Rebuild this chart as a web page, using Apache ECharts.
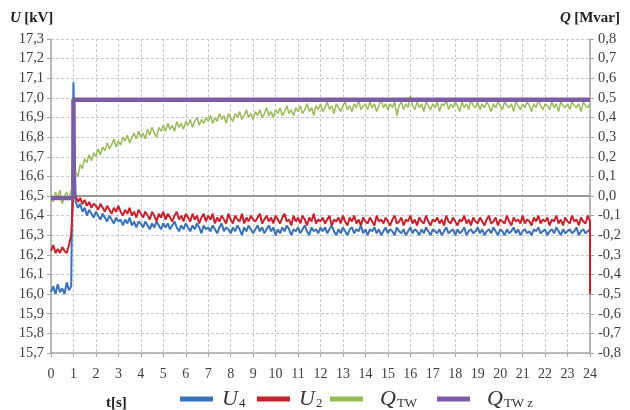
<!DOCTYPE html>
<html>
<head>
<meta charset="utf-8">
<script src="https://cdn.jsdelivr.net/npm/echarts@6/dist/echarts.min.js"></script>
<style>
  html, body { margin: 0; padding: 0; background: #fff; }
  #chart { width: 630px; height: 410px; }
</style>
</head>
<body>
<div id="chart"></div>
<script>
// sample step of the recorded traces [s]
var dt = 0.1;

// U4 [kV], t = 0.0 ... 24.0
var u4 = [
  16.01, 16.04, 16.00, 16.05, 16.01, 16.03, 16.00, 16.06, 16.02, 16.04,
  17.08,
  16.47, 16.44, 16.46, 16.42, 16.44, 16.40, 16.43, 16.41, 16.39, 16.42,
  16.40, 16.38, 16.41, 16.39, 16.37, 16.40, 16.38, 16.36, 16.39, 16.37,
  16.38, 16.35, 16.38, 16.36, 16.39, 16.35, 16.37, 16.34, 16.37, 16.36,
  16.34, 16.37, 16.35, 16.33, 16.36, 16.34, 16.37, 16.35, 16.33, 16.36,
  16.34, 16.36, 16.33, 16.35, 16.37, 16.34, 16.32, 16.35, 16.33, 16.36,
  16.34, 16.32, 16.35, 16.33, 16.36, 16.34, 16.31, 16.35, 16.33, 16.34,
  16.32, 16.35, 16.33, 16.31, 16.34, 16.36, 16.32, 16.34, 16.33, 16.31,
  16.34, 16.32, 16.35, 16.33, 16.30, 16.34, 16.32, 16.35, 16.33, 16.31,
  16.33, 16.35, 16.32, 16.34, 16.31, 16.33, 16.35, 16.32, 16.34, 16.30,
  16.33, 16.31, 16.34, 16.32, 16.35, 16.33, 16.30, 16.33, 16.32, 16.34,
  16.31, 16.33, 16.35, 16.32, 16.30, 16.34, 16.32, 16.33, 16.31, 16.34,
  16.32, 16.34, 16.31, 16.33, 16.35, 16.32, 16.30, 16.33, 16.31, 16.34,
  16.32, 16.30, 16.33, 16.34, 16.31, 16.33, 16.32, 16.35, 16.31, 16.33,
  16.30, 16.33, 16.32, 16.34, 16.31, 16.33, 16.30, 16.32, 16.34, 16.31,
  16.33, 16.32, 16.30, 16.34, 16.32, 16.31, 16.33, 16.30, 16.32, 16.34,
  16.31, 16.33, 16.32, 16.30, 16.33, 16.31, 16.34, 16.32, 16.30, 16.33,
  16.32, 16.31, 16.33, 16.30, 16.32, 16.34, 16.31, 16.32, 16.33, 16.30,
  16.33, 16.31, 16.32, 16.34, 16.30, 16.32, 16.33, 16.31, 16.32, 16.34,
  16.31, 16.33, 16.30, 16.32, 16.33, 16.31, 16.34, 16.32, 16.30, 16.33,
  16.32, 16.30, 16.33, 16.31, 16.32, 16.34, 16.31, 16.33, 16.30, 16.32,
  16.33, 16.31, 16.32, 16.30, 16.33, 16.32, 16.34, 16.31, 16.32, 16.33,
  16.30, 16.32, 16.33, 16.31, 16.34, 16.32, 16.30, 16.33, 16.31, 16.32,
  16.33, 16.31, 16.32, 16.34, 16.30, 16.32, 16.33, 16.31, 16.32, 16.33
];

// U2 [kV], t = 0.0 ... 24.0
var u2 = [
  16.22, 16.25, 16.21, 16.23, 16.21, 16.24, 16.22, 16.21, 16.25, 16.30,
  16.52,
  16.50, 16.47, 16.49, 16.46, 16.48, 16.45, 16.47, 16.44, 16.46, 16.45,
  16.43, 16.46, 16.44, 16.42, 16.45, 16.43, 16.41, 16.44, 16.42, 16.45,
  16.42, 16.40, 16.43, 16.41, 16.44, 16.40, 16.42, 16.39, 16.43, 16.41,
  16.39, 16.42, 16.40, 16.38, 16.42, 16.40, 16.37, 16.41, 16.39, 16.42,
  16.38, 16.41, 16.39, 16.37, 16.40, 16.42, 16.38, 16.40, 16.37, 16.41,
  16.39, 16.37, 16.41, 16.38, 16.40, 16.36, 16.39, 16.41, 16.37, 16.40,
  16.38, 16.41, 16.36, 16.39, 16.37, 16.40, 16.38, 16.36, 16.41, 16.38,
  16.36, 16.40, 16.38, 16.37, 16.41, 16.36, 16.39, 16.37, 16.40, 16.38,
  16.37, 16.39, 16.41, 16.36, 16.38, 16.40, 16.37, 16.39, 16.36, 16.40,
  16.38, 16.36, 16.39, 16.41, 16.37, 16.38, 16.35, 16.40, 16.37, 16.39,
  16.36, 16.40, 16.38, 16.35, 16.39, 16.37, 16.41, 16.36, 16.38, 16.37,
  16.39, 16.36, 16.38, 16.40, 16.35, 16.38, 16.37, 16.39, 16.36, 16.40,
  16.37, 16.35, 16.39, 16.37, 16.40, 16.36, 16.38, 16.35, 16.39, 16.37,
  16.36, 16.39, 16.37, 16.35, 16.40, 16.37, 16.38, 16.36, 16.39, 16.37,
  16.35, 16.38, 16.40, 16.36, 16.37, 16.39, 16.35, 16.38, 16.37, 16.40,
  16.36, 16.38, 16.35, 16.39, 16.37, 16.36, 16.40, 16.37, 16.35, 16.38,
  16.37, 16.39, 16.36, 16.38, 16.35, 16.40, 16.37, 16.36, 16.39, 16.37,
  16.35, 16.38, 16.37, 16.40, 16.36, 16.38, 16.35, 16.39, 16.37, 16.36,
  16.39, 16.37, 16.35, 16.38, 16.40, 16.36, 16.37, 16.39, 16.35, 16.38,
  16.37, 16.36, 16.40, 16.37, 16.35, 16.39, 16.37, 16.38, 16.36, 16.40,
  16.36, 16.38, 16.37, 16.35, 16.39, 16.37, 16.40, 16.36, 16.38, 16.37,
  16.39, 16.35, 16.38, 16.37, 16.40, 16.36, 16.38, 16.35, 16.39, 16.37,
  16.36, 16.40, 16.37, 16.38, 16.35, 16.39, 16.37, 16.36, 16.40, 16.37
];
// U2 falls off at the very end of the record
var u2End = [24, 16.00];

// Q_TW [Mvar], t = 0.0 ... 24.0
var qtw = [
  0.01, -0.03, 0.02, -0.01, 0.03, -0.04, 0.00, 0.02, -0.02, 0.03,
  0.06,
  0.12, 0.10, 0.16, 0.14, 0.19, 0.17, 0.21, 0.18, 0.22, 0.20,
  0.24, 0.21, 0.25, 0.23, 0.27, 0.24, 0.26, 0.29, 0.25, 0.28,
  0.26, 0.30, 0.28, 0.31, 0.27, 0.30, 0.32, 0.29, 0.33, 0.30,
  0.32, 0.29, 0.34, 0.31, 0.35, 0.32, 0.30, 0.35, 0.33, 0.36,
  0.33, 0.37, 0.34, 0.36, 0.33, 0.38, 0.35, 0.37, 0.34, 0.38,
  0.36, 0.39, 0.35, 0.38, 0.40, 0.36, 0.39, 0.37, 0.40, 0.38,
  0.41, 0.37, 0.40, 0.38, 0.42, 0.39, 0.41, 0.37, 0.42, 0.40,
  0.38, 0.42, 0.40, 0.43, 0.39, 0.41, 0.44, 0.40, 0.42, 0.39,
  0.43, 0.41, 0.44, 0.40, 0.42, 0.45, 0.41, 0.43, 0.40, 0.44,
  0.42, 0.45, 0.41, 0.43, 0.46, 0.42, 0.44, 0.41, 0.45, 0.43,
  0.46, 0.42, 0.44, 0.47, 0.43, 0.45, 0.41, 0.46, 0.44, 0.47,
  0.43, 0.45, 0.48, 0.44, 0.46, 0.42, 0.47, 0.45, 0.43, 0.46,
  0.48, 0.44, 0.46, 0.43, 0.47, 0.45, 0.49, 0.44, 0.46, 0.47,
  0.44, 0.48, 0.45, 0.47, 0.43, 0.46, 0.49, 0.45, 0.47, 0.44,
  0.47, 0.45, 0.48, 0.41, 0.46, 0.48, 0.44, 0.47, 0.45, 0.51,
  0.46, 0.44, 0.48, 0.45, 0.47, 0.43, 0.48, 0.46, 0.44, 0.47,
  0.45, 0.48, 0.43, 0.47, 0.46, 0.49, 0.44, 0.47, 0.45, 0.48,
  0.46, 0.43, 0.48, 0.45, 0.47, 0.44, 0.49, 0.46, 0.45, 0.48,
  0.44, 0.47, 0.45, 0.48, 0.46, 0.43, 0.47, 0.45, 0.48, 0.46,
  0.44, 0.48, 0.46, 0.45, 0.47, 0.43, 0.48, 0.46, 0.44, 0.47,
  0.45, 0.48, 0.46, 0.43, 0.47, 0.45, 0.49, 0.46, 0.44, 0.47,
  0.46, 0.44, 0.48, 0.45, 0.47, 0.43, 0.48, 0.46, 0.45, 0.47,
  0.44, 0.48, 0.46, 0.45, 0.47, 0.43, 0.48, 0.46, 0.45, 0.47
];

// Q_TW z setpoint [Mvar] (step at t = 1 s)
var qzTime  = [0, 1, 1, 24];
var qzValue = [-0.01, -0.01, 0.49, 0.49];

// zero reference line on the Q axis
var refTime  = [1, 24];
var refValue = [0, 0];

var seriesNames = ['U4', 'U2', 'QTW', 'QTW z'];
var legendLabels = {
  'U4': '{i|U}{s|4}',
  'U2': '{i|U}{s|2}',
  'QTW': '{i|Q}{s|TW}',
  'QTW z': '{i|Q}{s|TW z}'
};

function sampled(arr) {
  return arr.map(function (v, i) { return [Math.round(i * dt * 10) / 10, v]; });
}
function paired(ts, vs) {
  return ts.map(function (t, i) { return [t, vs[i]]; });
}
function comma(v) {
  return v.toFixed(1).replace('.', ',');
}

var serif = 'Liberation Serif';
var labelColor = '#404040';
var u2Data = sampled(u2);
u2Data.push([u2End[0], u2Data[u2Data.length - 1][1]]);
u2Data.push(u2End);

var myChart = echarts.init(document.getElementById('chart'));

var legendLeft = [180, 257, 330, 437];
var legends = seriesNames.map(function (n, k) {
  return {
    data: [n],
    left: legendLeft[k],
    top: 388,
    icon: 'rect',
    itemWidth: 33,
    itemHeight: 5,
    padding: 0,
    formatter: function (name) { return legendLabels[name]; },
    textStyle: {
      rich: {
        i: { fontFamily: serif, fontStyle: 'italic', fontSize: 22, color: '#333', padding: [0, 0, 0, k >= 2 ? 12 : 4] },
        s: { fontFamily: serif, fontSize: 13, color: '#333', padding: [10, 0, 0, 1] }
      }
    }
  };
});

var option = {
  backgroundColor: '#fff',
  animation: false,
  grid: { left: 51, right: 40, top: 39, bottom: 57 },
  legend: legends,
  graphic: [
    {
      type: 'text', left: 10, top: 11,
      style: {
        text: '{i|U} {b|[kV]}',
        rich: {
          i: { fontFamily: serif, fontStyle: 'italic', fontWeight: 'bold', fontSize: 15, fill: '#222' },
          b: { fontFamily: serif, fontWeight: 'bold', fontSize: 15, fill: '#222' }
        }
      }
    },
    {
      type: 'text', left: 560, top: 11,
      style: {
        text: '{i|Q} {b|[Mvar]}',
        rich: {
          i: { fontFamily: serif, fontStyle: 'italic', fontWeight: 'bold', fontSize: 15, fill: '#222' },
          b: { fontFamily: serif, fontWeight: 'bold', fontSize: 15, fill: '#222' }
        }
      }
    },
    {
      type: 'text', left: 106, top: 396,
      style: { text: 't[s]', fontFamily: serif, fontWeight: 'bold', fontSize: 15, fill: '#222' }
    }
  ],
  xAxis: {
    type: 'value',
    min: 0, max: 24, interval: 1,
    axisLine: { show: true, onZero: false, lineStyle: { color: '#a6a6a6', width: 1.5 } },
    axisTick: { show: true, length: 4, lineStyle: { color: '#a6a6a6' } },
    axisLabel: { fontFamily: serif, fontSize: 14, color: labelColor, margin: 14 },
    splitLine: { show: true, lineStyle: { color: '#c8c8c8', type: [3, 2] } }
  },
  yAxis: [
    {
      type: 'value',
      min: 15.7, max: 17.3, interval: 0.1,
      axisLine: { show: true, lineStyle: { color: '#a6a6a6', width: 1.5 } },
      axisTick: { show: true, length: 4, lineStyle: { color: '#a6a6a6' } },
      axisLabel: { fontFamily: serif, fontSize: 14.5, color: labelColor, margin: 7, formatter: comma },
      splitLine: { show: true, lineStyle: { color: '#c8c8c8', type: [3, 2] } }
    },
    {
      type: 'value',
      min: -0.8, max: 0.8, interval: 0.1,
      axisLine: { show: true, lineStyle: { color: '#a6a6a6', width: 1.5 } },
      axisTick: { show: true, length: 4, lineStyle: { color: '#a6a6a6' } },
      axisLabel: { fontFamily: serif, fontSize: 14.5, color: labelColor, margin: 8, formatter: comma },
      splitLine: { show: false }
    }
  ],
  series: [
    {
      name: 'ref', type: 'line', yAxisIndex: 1, showSymbol: false, silent: true,
      lineStyle: { color: '#9a9a9a', width: 2 }, z: 1,
      data: paired(refTime, refValue)
    },
    {
      name: 'U4', type: 'line', yAxisIndex: 0, showSymbol: false,
      color: '#3a72bb', lineStyle: { width: 2 }, z: 2,
      data: sampled(u4)
    },
    {
      name: 'U2', type: 'line', yAxisIndex: 0, showSymbol: false,
      color: '#c8232c', lineStyle: { width: 2 }, z: 3,
      data: u2Data
    },
    {
      name: 'QTW', type: 'line', yAxisIndex: 1, showSymbol: false,
      color: '#9bbb59', lineStyle: { width: 1.5 }, z: 4,
      data: sampled(qtw)
    },
    {
      name: 'QTW z', type: 'line', yAxisIndex: 1, showSymbol: false,
      color: '#7d5ca6', lineStyle: { width: 4.5 }, z: 5,
      data: paired(qzTime, qzValue)
    }
  ]
};

myChart.setOption(option);
</script>
</body>
</html>
